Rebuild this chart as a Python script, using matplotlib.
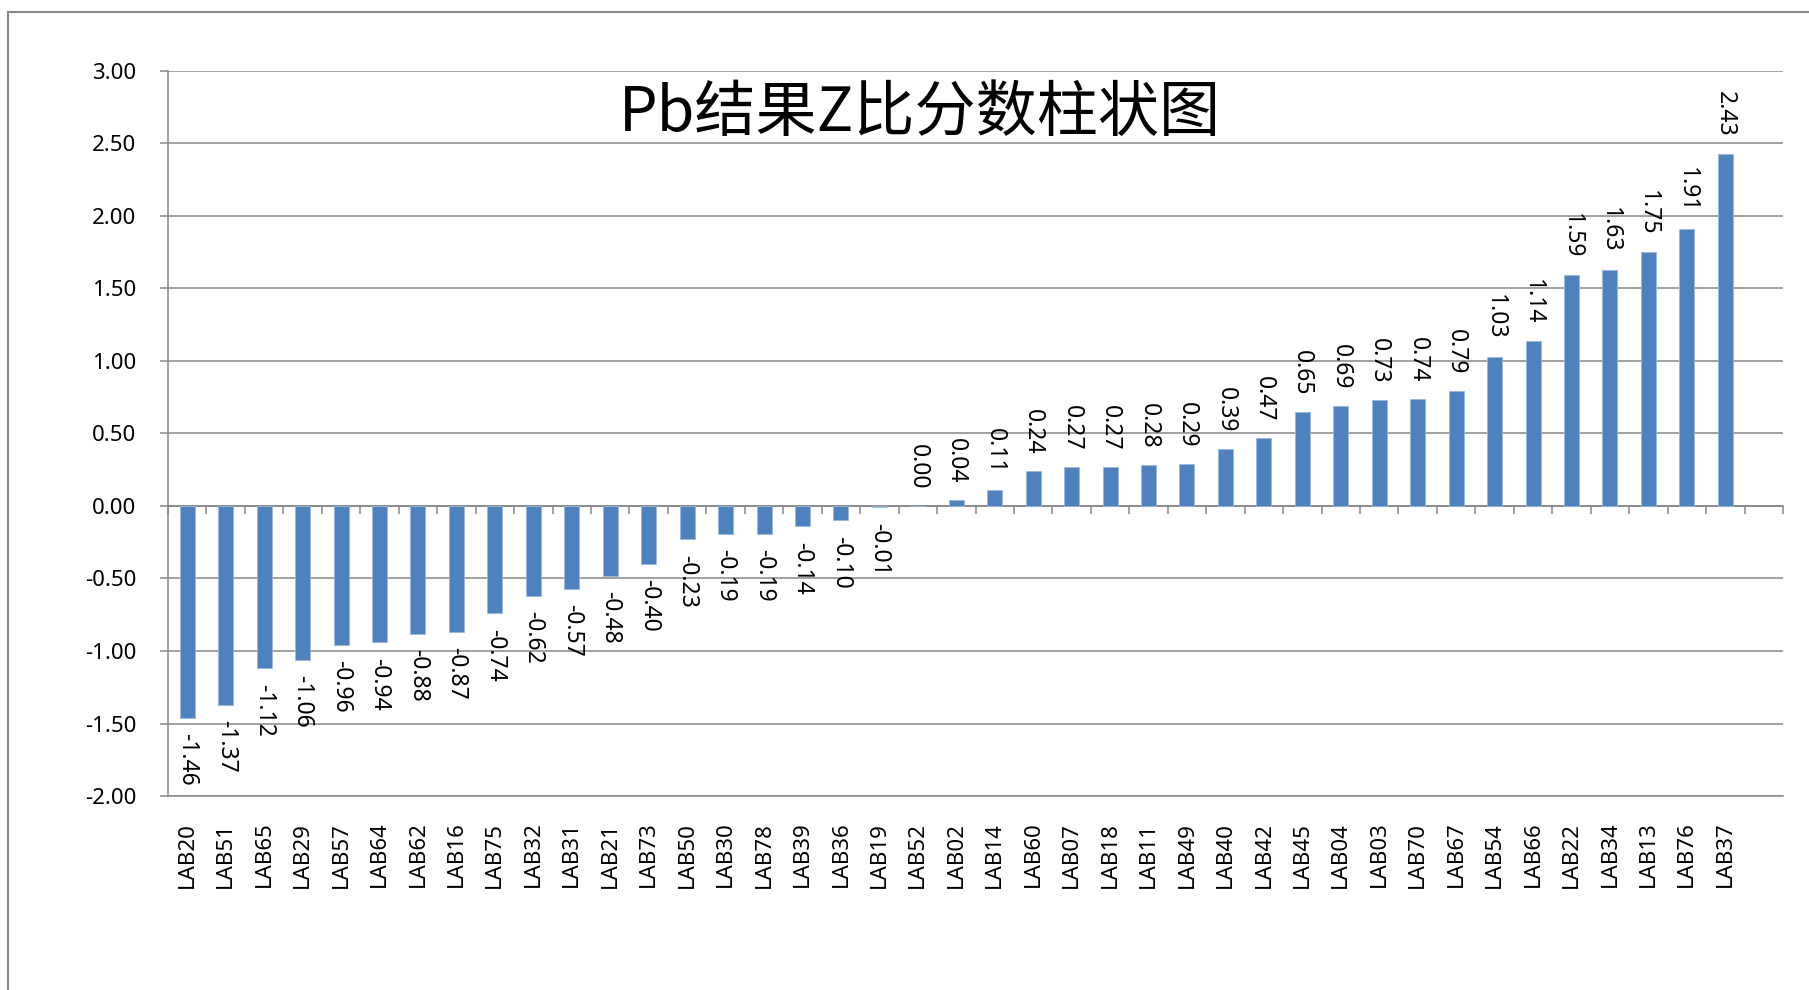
import numpy as np
import matplotlib
matplotlib.use('Agg')
import matplotlib.pyplot as plt
from matplotlib.lines import Line2D

# lab codes, sorted by z-score
labs = ['LAB20', 'LAB51', 'LAB65', 'LAB29', 'LAB57', 'LAB64', 'LAB62', 'LAB16', 'LAB75', 'LAB32',
        'LAB31', 'LAB21', 'LAB73', 'LAB50', 'LAB30', 'LAB78', 'LAB39', 'LAB36', 'LAB19', 'LAB52',
        'LAB02', 'LAB14', 'LAB60', 'LAB07', 'LAB18', 'LAB11', 'LAB49', 'LAB40', 'LAB42', 'LAB45',
        'LAB04', 'LAB03', 'LAB70', 'LAB67', 'LAB54', 'LAB66', 'LAB22', 'LAB34', 'LAB13', 'LAB76',
        'LAB37']
z_scores = [-1.46, -1.37, -1.12, -1.06, -0.96, -0.94, -0.88, -0.87, -0.74, -0.62,
            -0.57, -0.48, -0.40, -0.23, -0.19, -0.19, -0.14, -0.10, -0.01, 0.00,
            0.04, 0.11, 0.24, 0.27, 0.27, 0.28, 0.29, 0.39, 0.47, 0.65,
            0.69, 0.73, 0.74, 0.79, 1.03, 1.14, 1.59, 1.63, 1.75, 1.91,
            2.43]
y_ticks = [-2.0, -1.5, -1.0, -0.5, 0.0, 0.5, 1.0, 1.5, 2.0, 2.5, 3.0]
title = 'Pb结果Z比分数柱状图'

W, H = 1809, 990
grey = '#878787'
bar_color = '#4f81bd'

plt.rcParams['font.family'] = ['Noto Sans', 'Noto Sans CJK SC', 'DejaVu Sans']

fig = plt.figure(figsize=(W / 100, H / 100), dpi=100)
ax = fig.add_axes([168 / W, 1 - 796 / H, (1783 - 168) / W, (796 - 71) / H])

x = np.arange(len(labs))
ax.bar(x, z_scores, width=0.39, color=bar_color, edgecolor='#9bb7dc', linewidth=0.6, zorder=3)

for xi, v in zip(x, z_scores):
    if v >= 0:
        ax.annotate(f'{v:.2f}', (xi, v), xytext=(0, 12), textcoords='offset points',
                    rotation=270, ha='center', va='bottom', fontsize=16.5)
    else:
        ax.annotate(f'{v:.2f}', (xi, v), xytext=(0, -11), textcoords='offset points',
                    rotation=270, ha='center', va='top', fontsize=16.5)

# the category axis keeps one empty slot after the last lab
n_slots = len(labs) + 1
ax.set_xlim(-0.5, n_slots - 0.5)
ax.set_ylim(y_ticks[0], y_ticks[-1])
ax.set_yticks(y_ticks)
ax.set_yticklabels([f'{t:.2f}' for t in y_ticks], fontsize=16)
ax.set_xticks(x)
ax.set_xticklabels(labs, rotation=90, fontsize=16)
ax.tick_params(axis='x', length=0, pad=18.5)
ax.tick_params(axis='y', length=5.8, width=1.1, color=grey, pad=17)

ax.grid(axis='y', color=grey, linewidth=1.1, zorder=0)
for side in ['top', 'right']:
    ax.spines[side].set_visible(False)
for side in ['left', 'bottom']:
    ax.spines[side].set_color(grey)
    ax.spines[side].set_linewidth(1.1)

# category axis crossing at zero, with tick marks between categories
zero_frac = (0 - y_ticks[0]) / (y_ticks[-1] - y_ticks[0])
sec = ax.secondary_xaxis(zero_frac)
sec.set_xticks(np.arange(n_slots + 1) - 0.5)
sec.set_xticklabels([])
sec.tick_params(length=5.8, width=1.1, color=grey)
sec.spines['bottom'].set_color(grey)
sec.spines['bottom'].set_linewidth(1.1)

fig.text(920 / W, 1 - 114 / H, title, fontsize=44, ha='center', va='center',
         family=['Noto Sans CJK SC', 'DejaVu Sans'])

# chart area border
fig.add_artist(Line2D([8 / W, 8 / W], [0, 1 - 12 / H], color=grey, linewidth=1.5))
fig.add_artist(Line2D([8 / W, 1], [1 - 12 / H, 1 - 12 / H], color=grey, linewidth=1.5))

fig.savefig('out.png', dpi=100)
